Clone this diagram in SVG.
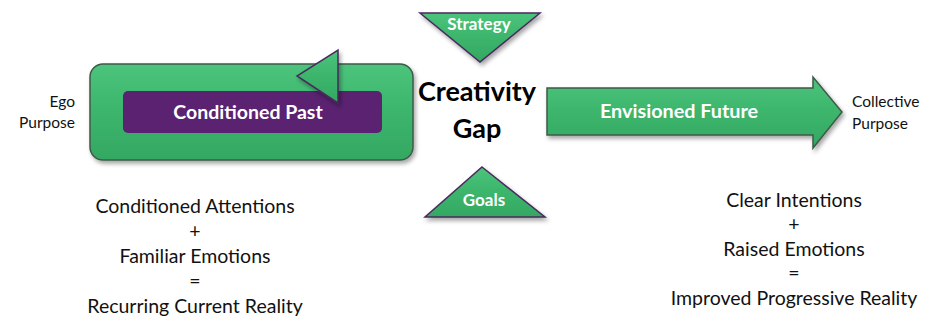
<svg xmlns="http://www.w3.org/2000/svg" width="944" height="320" viewBox="0 0 944 320">
<defs>
<linearGradient id="gv" x1="0" y1="0" x2="0" y2="1">
<stop offset="0" stop-color="#4cc47c"/>
<stop offset="0.5" stop-color="#3cb56c"/>
<stop offset="1" stop-color="#34a862"/>
</linearGradient>
<filter id="sh" x="-10%" y="-10%" width="130%" height="140%">
<feDropShadow dx="2" dy="3" stdDeviation="2" flood-color="#000" flood-opacity="0.35"/>
</filter>
</defs>
<style>
.g{fill:url(#gv);stroke:#3f5a48;stroke-width:1.5;filter:url(#sh)}
.tri{fill:url(#gv);stroke:#4a2a5e;stroke-width:1.5;filter:url(#sh)}
.w{font-family:Lato,"Liberation Sans",sans-serif;font-weight:bold;fill:#fff;text-anchor:middle}
.b{font-family:Lato,"Liberation Sans",sans-serif;fill:#111;text-anchor:middle;font-size:19.5px}
.h{font-family:Lato,"Liberation Sans",sans-serif;font-weight:bold;fill:#000;text-anchor:middle;font-size:27px}
.s{font-family:Lato,"Liberation Sans",sans-serif;fill:#111;font-size:15.5px}
</style>
<g id="past">
<rect class="g" x="90" y="64" width="323" height="96" rx="13"/>
<rect x="123" y="91" width="259" height="42" rx="5" fill="#5a2270"/>
<text class="w" x="248" y="119" font-size="19.5">Conditioned Past</text>
</g>
<g id="back-arrow">
<polygon class="tri" points="338,50 338,103 297,76"/>
</g>
<g id="strategy">
<polygon class="tri" points="420,13 540,13 480,62"/>
<text class="w" x="479" y="30" font-size="17">Strategy</text>
</g>
<g id="goals">
<polygon class="tri" points="482,167 545,217 425,217"/>
<text class="w" x="484" y="206" font-size="17">Goals</text>
</g>
<g id="gap">
<text class="h" x="477" y="101">Creativity</text>
<text class="h" x="477" y="138">Gap</text>
</g>
<g id="future">
<polygon class="g" points="547,88 813,88 813,77 842,112 813,148 813,135 547,135"/>
<text class="w" x="679" y="118" font-size="19.8">Envisioned Future</text>
</g>
<g id="ego">
<text class="s" x="75" y="107" text-anchor="end">Ego</text>
<text class="s" x="75" y="128" text-anchor="end">Purpose</text>
</g>
<g id="collective">
<text class="s" x="852" y="107">Collective</text>
<text class="s" x="852" y="129">Purpose</text>
</g>
<g id="left-eq">
<text class="b" x="195" y="213">Conditioned Attentions</text>
<text class="b" x="195" y="238">+</text>
<text class="b" x="195" y="263">Familiar Emotions</text>
<text class="b" x="195" y="288">=</text>
<text class="b" x="195" y="313">Recurring Current Reality</text>
</g>
<g id="right-eq">
<text class="b" x="794" y="207">Clear Intentions</text>
<text class="b" x="794" y="231">+</text>
<text class="b" x="794" y="256">Raised Emotions</text>
<text class="b" x="794" y="280">=</text>
<text class="b" x="794" y="305">Improved Progressive Reality</text>
</g>
<g id="connectors"></g>
</svg>
